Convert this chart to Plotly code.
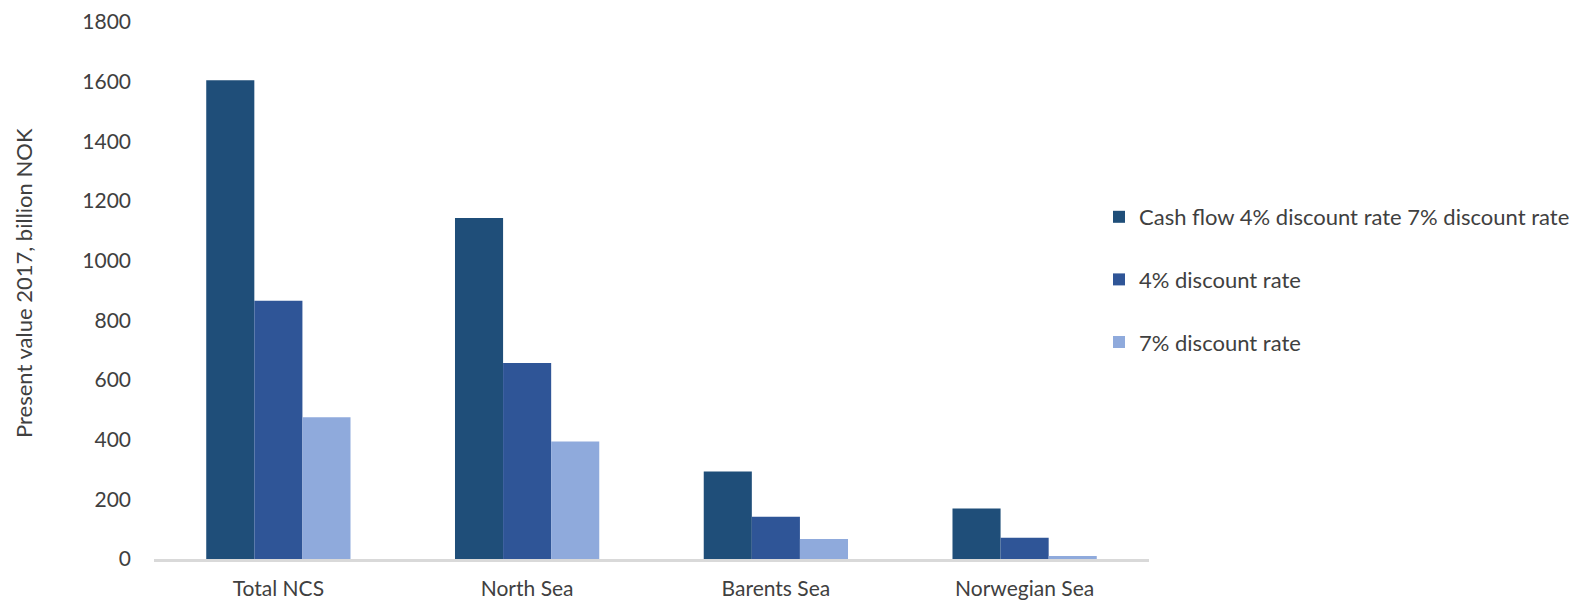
import plotly.graph_objects as go

categories = ["Total NCS", "North Sea", "Barents Sea", "Norwegian Sea"]
cash_flow = [1605, 1143, 293, 169]
rate_4 = [866, 657, 142, 71]
rate_7 = [475, 394, 67, 10]

series_names = ["Cash flow 4% discount rate 7% discount rate", "4% discount rate", "7% discount rate"]
series_values = [cash_flow, rate_4, rate_7]
colors = ["#1F4E79", "#2F5597", "#8FAADC"]

y_ticks = [0, 200, 400, 600, 800, 1000, 1200, 1400, 1600, 1800]

FONT = "Lato, 'Open Sans', sans-serif"
TEXT = "#404040"

W, H = 1576, 602
L, R, T, B = 154, 427, 22, 43
PW, PH = W - L - R, H - T - B

fig = go.Figure()
for i, (name, vals, col) in enumerate(zip(series_names, series_values, colors)):
    fig.add_trace(go.Bar(
        x=categories, y=vals, name=name,
        marker=dict(color=col, line=dict(width=0)),
        legendgroup=f"g{i}",
    ))

fig.update_layout(
    width=W, height=H,
    margin=dict(l=L, r=R, t=T, b=B, autoexpand=False),
    paper_bgcolor="white", plot_bgcolor="white",
    barmode="group", bargap=0.42, bargroupgap=0,
    font=dict(family=FONT, size=21, color=TEXT),
    showlegend=True,
    legend=dict(
        xref="container", yref="container",
        x=1099 / W, y=1 - 196 / H, xanchor="left", yanchor="top",
        font=dict(family=FONT, size=22, color=TEXT),
        tracegroupgap=31, itemwidth=30,
        bgcolor="rgba(0,0,0,0)",
    ),
    xaxis=dict(
        showgrid=False, showline=True, linecolor="#D9D9D9", linewidth=2.5,
        ticks="", ticklabelstandoff=9, tickfont=dict(size=21, color=TEXT),
    ),
    yaxis=dict(
        range=[0, 1800], tickvals=y_ticks, showgrid=False, zeroline=False,
        showline=False, ticks="", ticklabelstandoff=22,
        tickfont=dict(size=21, color=TEXT),
    ),
    annotations=[dict(
        text="Present value 2017, billion NOK",
        xref="paper", yref="paper",
        x=(23 - L) / PW, y=(H - B - 283) / PH,
        xanchor="center", yanchor="middle", textangle=-90, showarrow=False,
        font=dict(family=FONT, size=22, color=TEXT),
    )],
)

fig.write_html("out.html")
